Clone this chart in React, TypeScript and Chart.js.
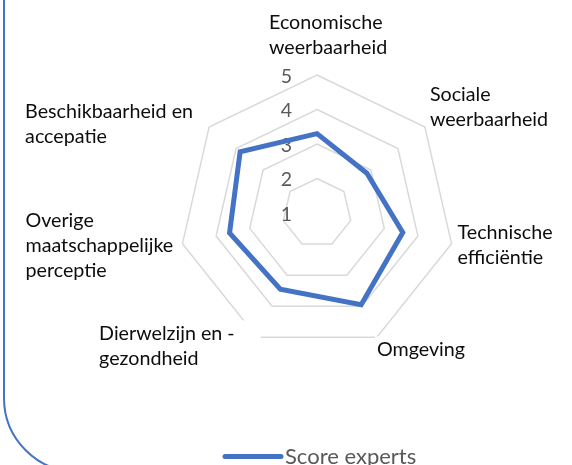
import React, { useEffect, useRef } from "react";
import { Chart, registerables } from "chart.js";

Chart.register(...registerables);

// ---- data ----
const categories: string[][] = [
  ["Economische", "weerbaarheid"],
  ["Sociale", "weerbaarheid"],
  ["Technische", "efficiëntie"],
  ["Omgeving"],
  ["Dierwelzijn en -", "gezondheid"],
  ["Overige", "maatschappelijke", "perceptie"],
  ["Beschikbaarheid en", "accepatie"],
];
const seriesLabel = "Score experts";
const scores = [3.3, 2.85, 3.55, 3.95, 3.45, 3.6, 3.85];
const tickValues = [1, 2, 3, 4, 5];
const scaleMin = 1;
const scaleMax = 5;

// ---- style ----
const FONT = "Lato, 'Open Sans', sans-serif";
const LABEL_SIZE = 19.7;
const TICK_SIZE = 19.5;
const LINE_H = 25;
const BLUE = "#4472C4";
const GRAY_TEXT = "#595959";
// label anchor (left x, first baseline) relative to the outer vertex of each axis
const labelOffsets: number[][] = [
  [-48, -46],
  [5, -26],
  [6, -5],
  [0, 19],
  [-158, 3],
  [-157, -17],
  [-184, -9],
];
const labelBoxExtraRight = [0, 0, 0, 0, 24, 0, 0];

const ticksPlugin = {
  id: "excelTicks",
  beforeDatasetsDraw(chart: any) {
    const scale = chart.scales.r;
    const ctx = chart.ctx;
    ctx.save();
    ctx.font = `${TICK_SIZE}px ${FONT}`;
    ctx.fillStyle = GRAY_TEXT;
    ctx.textAlign = "right";
    ctx.textBaseline = "middle";
    tickValues.forEach((v) => {
      const d = scale.getDistanceFromCenterForValue(v);
      const p = scale.getPointPosition(0, d);
      ctx.fillText(String(v), scale.xCenter - 25, p.y + 1.5);
    });
    ctx.restore();
  },
};

const labelsPlugin = {
  id: "excelLabels",
  afterDraw(chart: any) {
    const scale = chart.scales.r;
    const ctx = chart.ctx;
    ctx.save();
    ctx.font = `${LABEL_SIZE}px ${FONT}`;
    ctx.textAlign = "left";
    ctx.textBaseline = "alphabetic";
    categories.forEach((lines, i) => {
      const p = scale.getPointPosition(i, scale.drawingArea);
      const x = p.x + labelOffsets[i][0];
      const y0 = p.y + labelOffsets[i][1];
      const w = Math.max(...lines.map((l) => ctx.measureText(l).width));
      ctx.fillStyle = "#ffffff";
      ctx.fillRect(x - 2, y0 - 20, w + 4 + labelBoxExtraRight[i], (lines.length - 1) * LINE_H + 28);
      ctx.fillStyle = "#0d0d0d";
      lines.forEach((l, k) => ctx.fillText(l, x, y0 + k * LINE_H));
    });

    // legend
    const ds = chart.data.datasets[0];
    const lx = scale.xCenter - 92;
    const ly = 456.5;
    ctx.strokeStyle = ds.borderColor;
    ctx.lineWidth = 5;
    ctx.lineCap = "round";
    ctx.beginPath();
    ctx.moveTo(lx, ly);
    ctx.lineTo(lx + 56, ly);
    ctx.stroke();
    ctx.font = `22px ${FONT}`;
    ctx.fillStyle = GRAY_TEXT;
    ctx.fillText(ds.label, lx + 60, 464);
    ctx.restore();
  },
};

export default function App() {
  const ref = useRef<HTMLCanvasElement | null>(null);

  useEffect(() => {
    if (!ref.current) return;
    const chart = new Chart(ref.current, {
      type: "radar",
      data: {
        labels: categories.map((c) => c.join(" ")),
        datasets: [
          {
            label: seriesLabel,
            data: scores,
            borderColor: BLUE,
            backgroundColor: "rgba(0,0,0,0)",
            borderWidth: 5,
            pointRadius: 0,
            pointHoverRadius: 0,
            fill: false,
            tension: 0,
          },
        ],
      },
      options: {
        responsive: false,
        animation: false,
        devicePixelRatio: 1,
        layout: { padding: { left: 179, right: 117, top: 75, bottom: 114 } },
        plugins: {
          legend: { display: false },
          tooltip: { enabled: false },
          title: { display: false },
        },
        scales: {
          r: {
            min: scaleMin,
            max: scaleMax,
            ticks: { display: false, stepSize: 1 },
            pointLabels: { display: false },
            angleLines: { display: false },
            grid: { color: "#d9d9d9", lineWidth: 1.5 },
          },
        },
      },
      plugins: [ticksPlugin, labelsPlugin],
    });
    return () => chart.destroy();
  }, []);

  return (
    <div
      style={{
        position: "fixed",
        left: 0,
        top: 0,
        width: 572,
        height: 465,
        overflow: "hidden",
        background: "#ffffff",
      }}
    >
      <canvas
        ref={ref}
        width={572}
        height={465}
        style={{ position: "absolute", left: 0, top: 0, width: 572, height: 465 }}
      />
      <div
        style={{
          position: "absolute",
          left: 3,
          top: -20,
          width: 700,
          height: 493,
          border: `2px solid ${BLUE}`,
          borderBottomLeftRadius: 75,
          boxSizing: "border-box",
          pointerEvents: "none",
        }}
      />
    </div>
  );
}
